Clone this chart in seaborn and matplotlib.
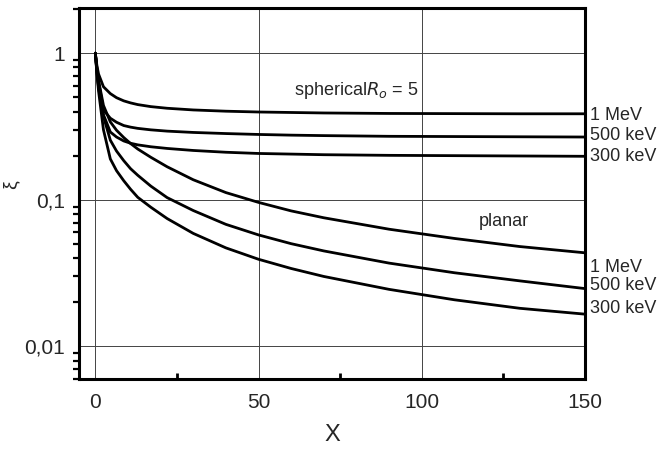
import numpy as np
import pandas as pd
import matplotlib
matplotlib.use("Agg")
import matplotlib.pyplot as plt
import seaborn as sns
from matplotlib.ticker import LogLocator, FixedLocator, NullFormatter

# ---- data ----
x_vals = [0, 0.5, 1, 2.5, 4.6, 6.5, 8.7, 10.8, 13, 17, 22, 30, 40, 50, 60, 70, 90, 110, 130, 150]

sph_1mev = [1.0, 0.82, 0.72, 0.59, 0.53, 0.497, 0.473, 0.458, 0.446, 0.432, 0.421, 0.41,
            0.402, 0.397, 0.394, 0.391, 0.388, 0.387, 0.386, 0.386]
sph_500kev = [1.0, 0.78, 0.64, 0.41, 0.36, 0.338, 0.321, 0.313, 0.307, 0.30, 0.294, 0.288,
              0.283, 0.279, 0.276, 0.274, 0.271, 0.270, 0.269, 0.268]
sph_300kev = [1.0, 0.74, 0.58, 0.38, 0.29, 0.268, 0.252, 0.243, 0.237, 0.23, 0.224, 0.217,
              0.211, 0.207, 0.205, 0.203, 0.201, 0.200, 0.199, 0.198]

pl_1mev = [1.0, 0.78, 0.65, 0.44, 0.34, 0.298, 0.266, 0.242, 0.222, 0.195, 0.168, 0.137,
           0.112, 0.096, 0.084, 0.0754, 0.063, 0.0545, 0.048, 0.0435]
pl_500kev = [1.0, 0.75, 0.60, 0.37, 0.255, 0.215, 0.185, 0.163, 0.147, 0.124, 0.1035, 0.0845,
             0.068, 0.0576, 0.0502, 0.0448, 0.037, 0.0318, 0.028, 0.0248]
pl_300kev = [1.0, 0.72, 0.55, 0.30, 0.19, 0.158, 0.135, 0.118, 0.104, 0.089, 0.0745, 0.059,
             0.047, 0.0393, 0.034, 0.030, 0.0245, 0.0208, 0.0182, 0.0166]

x_ticks = [0, 50, 100, 150]
y_ticks = [1, 0.1, 0.01]
y_ticklabels = ["1", "0,1", "0,01"]

series = {
    "sph 1 MeV": sph_1mev,
    "sph 500 keV": sph_500kev,
    "sph 300 keV": sph_300kev,
    "pl 1 MeV": pl_1mev,
    "pl 500 keV": pl_500kev,
    "pl 300 keV": pl_300kev,
}
rows = []
for name, ys in series.items():
    for xv, yv in zip(x_vals, ys):
        rows.append({"X": xv, "xi": yv, "curve": name})
df = pd.DataFrame(rows)

sns.set_theme(style="white")
plt.rcParams["font.family"] = ["Liberation Sans", "DejaVu Sans"]

fig = plt.figure(figsize=(6.61, 4.49), dpi=100)
ax = fig.add_axes([0.1195, 0.156, 0.7655, 0.826])

sns.lineplot(data=df, x="X", y="xi", hue="curve", palette=["black"] * 6,
             linewidth=2.0, legend=False, ax=ax, sort=True)

ax.set_yscale("log")
ax.set_xlim(-5, 150)
ax.set_ylim(0.006, 2.03)

ax.set_xticks(x_ticks)
ax.set_xticklabels([str(t) for t in x_ticks], fontsize=15)
ax.xaxis.set_minor_locator(FixedLocator([25, 75, 125]))
ax.set_yticks(y_ticks)
ax.set_yticklabels(y_ticklabels, fontsize=15)
ax.yaxis.set_minor_locator(LogLocator(base=10, subs=np.arange(2, 10)))
ax.yaxis.set_minor_formatter(NullFormatter())

ax.tick_params(axis="both", which="major", direction="out", length=6, width=2, color="black", pad=4)
ax.tick_params(axis="y", which="minor", direction="out", length=4, width=1.6, color="black", left=True)
ax.tick_params(axis="x", which="minor", direction="in", length=4, width=2, color="black", bottom=True)

ax.grid(True, which="major", color="#444444", linewidth=0.7)
for s in ax.spines.values():
    s.set_visible(True)
    s.set_color("black")
    s.set_linewidth(2.2)

ax.set_xlabel("X", fontsize=17, labelpad=9)
ax.set_ylabel("ξ", fontsize=14)
ax.yaxis.set_label_coords(-0.118, 0.525)

ax.text(80, 0.56, r"spherical$R_o$ = 5", fontsize=13, ha="center", va="center")
ax.text(125, 0.0715, "planar", fontsize=13, ha="center", va="center")

for yv, lab in [(0.377, "1 MeV"), (0.275, "500 keV"), (0.198, "300 keV"),
                (0.0346, "1 MeV"), (0.0261, "500 keV"), (0.0182, "300 keV")]:
    ax.text(151.5, yv, lab, fontsize=13, ha="left", va="center", clip_on=False)

fig.savefig("out.png", dpi=100, facecolor="white")
